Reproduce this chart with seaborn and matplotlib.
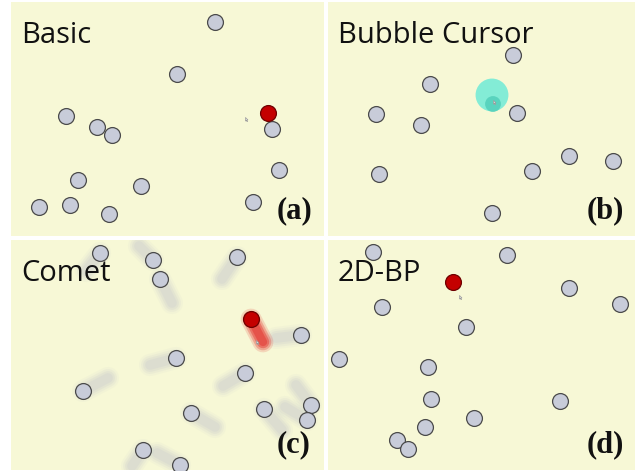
import matplotlib
matplotlib.use("Agg")
import matplotlib.pyplot as plt
import seaborn as sns
import pandas as pd
from matplotlib.path import Path

sns.set_theme(style="white")
plt.rcParams['font.family'] = ['Open Sans', 'DejaVu Sans']

# ---- data (image pixel coordinates) ----
titles = ["Basic", "Bubble Cursor", "Comet", "2D-BP"]
tags = ["(a)", "(b)", "(c)", "(d)"]

a_x = [215, 177, 66, 97, 112, 272, 279, 78, 141, 39, 70, 109, 253]
a_y = [22, 74, 116, 127, 135, 129, 170, 180, 186, 207, 205, 214, 202]
a_target = (268, 113)
a_cursor = (245, 117)

b_x = [513, 430, 376, 421, 517, 569, 613, 379, 532, 492]
b_y = [55, 84, 114, 125, 113, 156, 161, 174, 171, 213]
b_target = (493, 104)
b_bubble = (492, 95)
b_cursor = (493, 100)

c_x = [100, 153, 160, 237, 301, 176, 245, 83, 191, 264, 311, 307, 143, 180]
c_y = [253, 260, 279, 257, 335, 358, 373, 391, 413, 409, 405, 420, 450, 465]
c_tail_x = [86, 139, 172, 222, 276, 150, 223, 108, 215, 282, 296, 285, 132, 157]
c_tail_y = [271, 246, 303, 279, 338, 365, 386, 378, 427, 430, 385, 407, 466, 453]
c_target = (251, 319)
c_target_tail = (263, 342)
c_cursor = (256, 340)

d_x = [373, 507, 569, 620, 382, 466, 339, 428, 431, 560, 474, 425, 397, 408]
d_y = [252, 255, 288, 304, 307, 327, 359, 367, 399, 401, 418, 427, 440, 449]
d_target = (453, 282)
d_cursor = (459, 295)

panels = [(11, 2, 324, 236), (328, 2, 635, 236), (11, 240, 324, 470), (328, 240, 635, 470)]

# ---- styles ----
BG = "#F7F8D6"
FILL = "#C8CCD9"
EDGE = "#4A4A4A"
RED = "#C40000"
REDEDGE = "#6E0000"
W, H = 639, 473
S = 130

cursor_path = Path([(0, 0), (0, -16), (4, -12), (7, -19), (9, -18), (6, -11), (11, -11), (0, 0)],
                   [Path.MOVETO] + [Path.LINETO] * 6 + [Path.CLOSEPOLY])

fig = plt.figure(figsize=(W / 100, H / 100), dpi=100, facecolor="white")
axes = []
for (x0, y0, x1, y1) in panels:
    ax = fig.add_axes([x0 / W, 1 - y1 / H, (x1 - x0) / W, (y1 - y0) / H])
    ax.set_facecolor(BG)
    ax.set_xlim(x0, x1)
    ax.set_ylim(y1, y0)
    ax.set_xticks([])
    ax.set_yticks([])
    for sp in ax.spines.values():
        sp.set_visible(False)
    axes.append(ax)


def circles(ax, xs, ys, z=3):
    df = pd.DataFrame({"x": xs, "y": ys})
    sns.scatterplot(data=df, x="x", y="y", ax=ax, s=S, color=FILL, edgecolor=EDGE,
                    linewidth=0.9, zorder=z, legend=False)


def target(ax, pt, z=4):
    df = pd.DataFrame({"x": [pt[0]], "y": [pt[1]]})
    sns.scatterplot(data=df, x="x", y="y", ax=ax, s=S, color=RED, edgecolor=REDEDGE,
                    linewidth=0.9, zorder=z, legend=False)


def cursor(ax, pt):
    ax.plot([pt[0]], [pt[1]], marker=cursor_path, markersize=6, color="white",
            markeredgecolor="#999999", markeredgewidth=0.5, zorder=6)


def label(ax, i):
    x0, y0, x1, y1 = panels[i]
    ax.text(x0 + 10, y0 + 41, titles[i], fontsize=21, color="#111111", ha="left",
            va="baseline", family=['Open Sans', 'DejaVu Sans'], zorder=7)
    ax.text(x1 - 30, y1 - 25, tags[i], fontsize=22, fontweight="bold", color="#111111",
            ha="center", va="center", family=['Liberation Serif', 'DejaVu Serif'], zorder=7)


# (a) Basic
ax = axes[0]
circles(ax, a_x, a_y)
target(ax, a_target)
cursor(ax, a_cursor)
label(ax, 0)

# (b) Bubble cursor
ax = axes[1]
circles(ax, b_x, b_y)
sns.scatterplot(x=[b_bubble[0]], y=[b_bubble[1]], ax=ax, s=560, color="#6FEBD6",
                edgecolor="none", alpha=0.85, zorder=4, legend=False)
sns.scatterplot(x=[b_target[0]], y=[b_target[1]], ax=ax, s=S, color="#4FCDB8",
                edgecolor="none", alpha=0.8, zorder=5, legend=False)
cursor(ax, b_cursor)
label(ax, 1)

# (c) Comet
ax = axes[2]
for cx, cy, tx, ty in zip(c_x, c_y, c_tail_x, c_tail_y):
    for lw, al in [(16, 0.05), (13, 0.08), (10, 0.10), (7, 0.10)]:
        ax.plot([cx, tx], [cy, ty], color="#A0A6C8", lw=lw, alpha=al,
                solid_capstyle="round", zorder=2)
for lw, al in [(15, 0.15), (12, 0.25), (9, 0.35), (6, 0.35)]:
    ax.plot([c_target[0], c_target_tail[0]], [c_target[1], c_target_tail[1]], color="#E01818",
            lw=lw, alpha=al, solid_capstyle="round", zorder=3)
circles(ax, c_x, c_y)
target(ax, c_target)
cursor(ax, c_cursor)
label(ax, 2)

# (d) 2D-BP
ax = axes[3]
circles(ax, d_x, d_y)
target(ax, d_target)
cursor(ax, d_cursor)
label(ax, 3)

fig.savefig("out.png", dpi=100, facecolor="white")
